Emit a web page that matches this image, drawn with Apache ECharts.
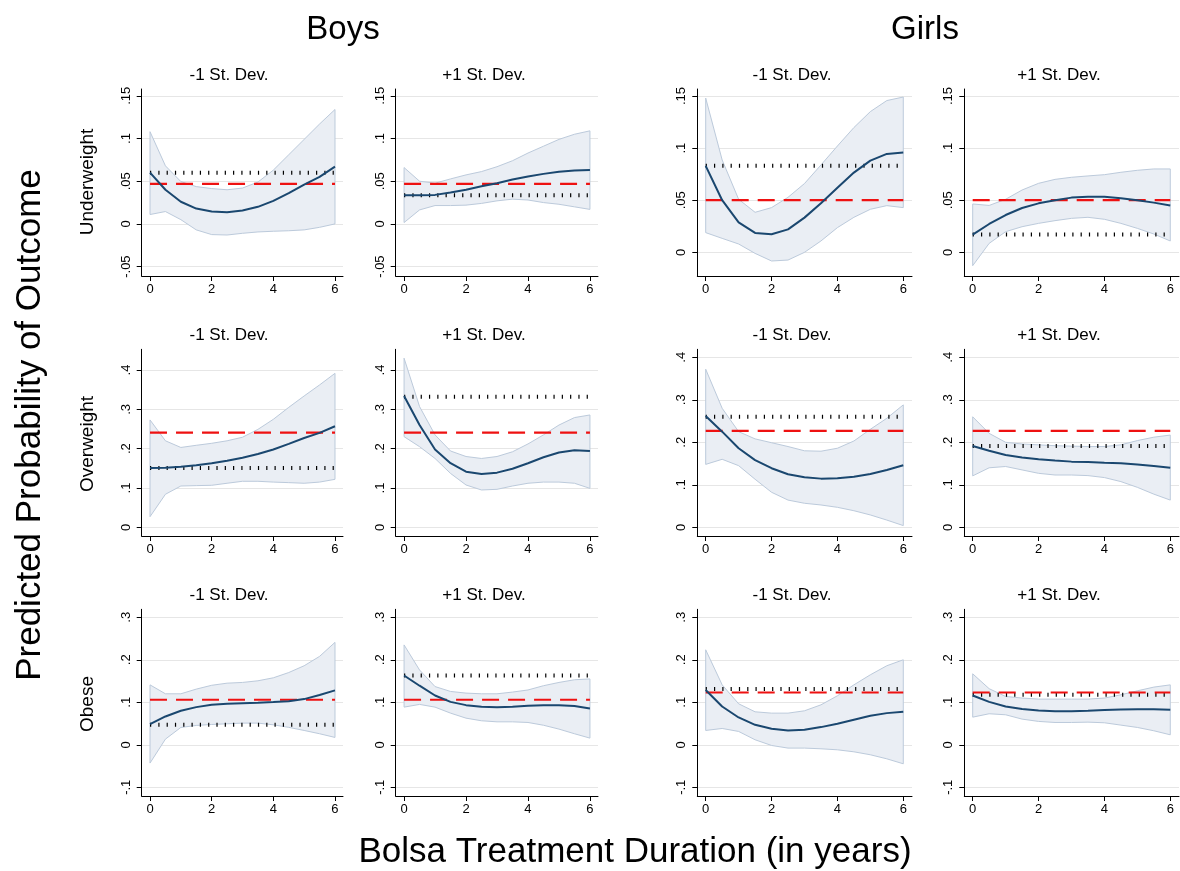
<!DOCTYPE html>
<html>
<head>
<meta charset="utf-8">
<script src="https://cdn.jsdelivr.net/npm/echarts@6/dist/echarts.min.js"></script>
<style>
  html, body { margin: 0; padding: 0; background: #ffffff; }
  #chart { width: 1180px; height: 871px; }
</style>
</head>
<body>
<div id="chart"></div>
<script>
// Treatment duration (years) at which predictions are evaluated
const durations = [0, 0.5, 1, 1.5, 2, 2.5, 3, 3.5, 4, 4.5, 5, 5.5, 6];

// Tick values
const xTicks = [0, 2, 4, 6];
const yTicksUnderBoys = [-0.05, 0, 0.05, 0.1, 0.15];
const yTicksUnderGirls = [0, 0.05, 0.1, 0.15];
const yTicksOver = [0, 0.1, 0.2, 0.3, 0.4];
const yTicksObese = [-0.1, 0, 0.1, 0.2, 0.3];

// Text
const sexTitles = ['Boys', 'Girls'];
const sdTitles = ['-1 St. Dev.', '+1 St. Dev.'];
const outcomeLabels = ['Underweight', 'Overweight', 'Obese'];
const yTitle = 'Predicted Probability of Outcome';
const xTitle = 'Bolsa Treatment Duration (in years)';

// Boys, underweight, -1 SD
const boysUnderMinusFit = [0.060, 0.040, 0.026, 0.018, 0.0145, 0.0137, 0.0156, 0.020, 0.027, 0.036, 0.046, 0.055, 0.067];
const boysUnderMinusLo  = [0.011, 0.0145, 0.005, -0.007, -0.0125, -0.013, -0.011, -0.0094, -0.0086, -0.008, -0.007, -0.004, 0.0];
const boysUnderMinusHi  = [0.108, 0.068, 0.0496, 0.0437, 0.0414, 0.040, 0.042, 0.049, 0.063, 0.081, 0.099, 0.117, 0.134];
// Boys, underweight, +1 SD
const boysUnderPlusFit = [0.0336, 0.0336, 0.034, 0.0367, 0.040, 0.044, 0.0477, 0.052, 0.0555, 0.0586, 0.061, 0.0625, 0.063];
const boysUnderPlusLo  = [0.0016, 0.0164, 0.0215, 0.0215, 0.022, 0.024, 0.027, 0.029, 0.028, 0.025, 0.023, 0.020, 0.017];
const boysUnderPlusHi  = [0.066, 0.050, 0.0477, 0.0527, 0.0574, 0.0613, 0.067, 0.074, 0.083, 0.091, 0.099, 0.105, 0.109];
// Girls, underweight, -1 SD
const girlsUnderMinusFit = [0.0829, 0.050, 0.0288, 0.0186, 0.0173, 0.022, 0.0333, 0.047, 0.062, 0.0765, 0.088, 0.0944, 0.0957];
const girlsUnderMinusLo  = [0.0189, 0.0134, 0.008, -0.001, -0.0083, -0.0074, 0.0, 0.0109, 0.0237, 0.0336, 0.0413, 0.0448, 0.0429];
const girlsUnderMinusHi  = [0.148, 0.0886, 0.0509, 0.0384, 0.0429, 0.0528, 0.066, 0.0838, 0.102, 0.1197, 0.135, 0.1456, 0.149];
// Girls, underweight, +1 SD
const girlsUnderPlusFit = [0.017, 0.0272, 0.0358, 0.0425, 0.047, 0.050, 0.0525, 0.0534, 0.0534, 0.052, 0.050, 0.0477, 0.045];
const girlsUnderPlusLo  = [-0.0128, 0.0086, 0.0198, 0.0246, 0.0278, 0.0304, 0.0326, 0.0336, 0.0317, 0.0278, 0.023, 0.0176, 0.0109];
const girlsUnderPlusHi  = [0.0464, 0.045, 0.0509, 0.0598, 0.0662, 0.070, 0.072, 0.0733, 0.0745, 0.0768, 0.0787, 0.080, 0.080];

// Boys, overweight, -1 SD
const boysOverMinusFit = [0.151, 0.1517, 0.154, 0.1576, 0.1627, 0.1695, 0.177, 0.1864, 0.198, 0.212, 0.227, 0.240, 0.257];
const boysOverMinusLo  = [0.027, 0.084, 0.105, 0.106, 0.1068, 0.112, 0.117, 0.117, 0.115, 0.1136, 0.112, 0.115, 0.122];
const boysOverMinusHi  = [0.273, 0.220, 0.203, 0.2085, 0.2136, 0.220, 0.229, 0.249, 0.2746, 0.305, 0.334, 0.362, 0.3915];
// Boys, overweight, +1 SD
const boysOverPlusFit = [0.334, 0.260, 0.198, 0.163, 0.1415, 0.1356, 0.139, 0.149, 0.163, 0.178, 0.190, 0.196, 0.194];
const boysOverPlusLo  = [0.2305, 0.205, 0.175, 0.137, 0.1076, 0.0949, 0.0966, 0.105, 0.112, 0.115, 0.115, 0.112, 0.099];
const boysOverPlusHi  = [0.430, 0.307, 0.235, 0.194, 0.180, 0.175, 0.180, 0.192, 0.212, 0.235, 0.260, 0.279, 0.2856];
// Girls, overweight, -1 SD
const girlsOverMinusFit = [0.262, 0.225, 0.186, 0.158, 0.139, 0.1247, 0.1176, 0.1145, 0.1153, 0.119, 0.1255, 0.135, 0.146];
const girlsOverMinusLo  = [0.148, 0.160, 0.145, 0.113, 0.0824, 0.064, 0.0565, 0.0525, 0.047, 0.039, 0.029, 0.017, 0.004];
const girlsOverMinusHi  = [0.372, 0.280, 0.225, 0.208, 0.199, 0.190, 0.180, 0.179, 0.186, 0.203, 0.2306, 0.2565, 0.288];
// Girls, overweight, +1 SD
const girlsOverPlusFit = [0.1914, 0.180, 0.170, 0.164, 0.160, 0.157, 0.1545, 0.1537, 0.152, 0.1506, 0.148, 0.144, 0.140];
const girlsOverPlusLo  = [0.121, 0.140, 0.143, 0.135, 0.127, 0.123, 0.123, 0.1216, 0.117, 0.1075, 0.094, 0.078, 0.064];
const girlsOverPlusHi  = [0.260, 0.221, 0.200, 0.196, 0.194, 0.192, 0.191, 0.190, 0.190, 0.194, 0.204, 0.212, 0.217];

// Boys, obese, -1 SD
const boysObeseMinusFit = [0.0486, 0.0667, 0.080, 0.0886, 0.094, 0.0965, 0.098, 0.0988, 0.1004, 0.1027, 0.1075, 0.117, 0.128];
const boysObeseMinusLo  = [-0.043, 0.0133, 0.0408, 0.0455, 0.0478, 0.0494, 0.051, 0.051, 0.047, 0.041, 0.0337, 0.026, 0.0173];
const boysObeseMinusHi  = [0.141, 0.120, 0.120, 0.131, 0.140, 0.145, 0.1467, 0.1506, 0.1576, 0.170, 0.186, 0.208, 0.241];
// Boys, obese, +1 SD
const boysObesePlusFit = [0.163, 0.139, 0.116, 0.101, 0.0933, 0.0894, 0.0886, 0.0894, 0.0918, 0.0933, 0.0933, 0.091, 0.0855];
const boysObesePlusLo  = [0.0886, 0.095, 0.0886, 0.0745, 0.0627, 0.0565, 0.054, 0.054, 0.0525, 0.046, 0.0369, 0.026, 0.0157];
const boysObesePlusHi  = [0.235, 0.176, 0.137, 0.1255, 0.1216, 0.120, 0.120, 0.124, 0.129, 0.139, 0.1467, 0.153, 0.155];
// Girls, obese, -1 SD
const girlsObeseMinusFit = [0.129, 0.090, 0.0643, 0.047, 0.0376, 0.0337, 0.0353, 0.0416, 0.0494, 0.0588, 0.0682, 0.0745, 0.0776];
const girlsObeseMinusLo  = [0.0337, 0.0384, 0.0314, 0.0118, -0.0016, -0.0078, -0.0078, -0.0094, -0.0118, -0.0165, -0.0235, -0.033, -0.0447];
const girlsObeseMinusHi  = [0.2235, 0.141, 0.0965, 0.0776, 0.0745, 0.0745, 0.080, 0.094, 0.1153, 0.141, 0.1647, 0.186, 0.200];
// Girls, obese, +1 SD
const girlsObesePlusFit = [0.116, 0.101, 0.090, 0.084, 0.0808, 0.0792, 0.0792, 0.080, 0.0816, 0.0831, 0.0839, 0.0839, 0.0824];
const girlsObesePlusLo  = [0.065, 0.073, 0.0706, 0.0604, 0.055, 0.0525, 0.0525, 0.0533, 0.0518, 0.0463, 0.0408, 0.033, 0.0235];
const girlsObesePlusHi  = [0.167, 0.132, 0.1137, 0.110, 0.1075, 0.1075, 0.1075, 0.1075, 0.110, 0.1176, 0.127, 0.1357, 0.141];

// Reference levels per panel (row-major: boys -1, boys +1, girls -1, girls +1)
const meanRef = [0.047, 0.047, 0.050, 0.050,
                 0.2407, 0.2407, 0.2267, 0.2267,
                 0.106, 0.106, 0.123, 0.123];
const baseRef = [0.060, 0.0336, 0.083, 0.017,
                 0.151, 0.332, 0.260, 0.191,
                 0.047, 0.163, 0.131, 0.118];

// Panel table assembled from the arrays above
const panels = [
  [boysUnderMinusFit, boysUnderMinusLo, boysUnderMinusHi, yTicksUnderBoys],
  [boysUnderPlusFit, boysUnderPlusLo, boysUnderPlusHi, yTicksUnderBoys],
  [girlsUnderMinusFit, girlsUnderMinusLo, girlsUnderMinusHi, yTicksUnderGirls],
  [girlsUnderPlusFit, girlsUnderPlusLo, girlsUnderPlusHi, yTicksUnderGirls],
  [boysOverMinusFit, boysOverMinusLo, boysOverMinusHi, yTicksOver],
  [boysOverPlusFit, boysOverPlusLo, boysOverPlusHi, yTicksOver],
  [girlsOverMinusFit, girlsOverMinusLo, girlsOverMinusHi, yTicksOver],
  [girlsOverPlusFit, girlsOverPlusLo, girlsOverPlusHi, yTicksOver],
  [boysObeseMinusFit, boysObeseMinusLo, boysObeseMinusHi, yTicksObese],
  [boysObesePlusFit, boysObesePlusLo, boysObesePlusHi, yTicksObese],
  [girlsObeseMinusFit, girlsObeseMinusLo, girlsObeseMinusHi, yTicksObese],
  [girlsObesePlusFit, girlsObesePlusLo, girlsObesePlusHi, yTicksObese]
];

// ---- layout (pixels) ----
const FONT = "'Liberation Sans', Arial, sans-serif";
const cols = [
  { l: 141.7, r: 343, xMin: -0.27, xMax: 6.26, titleX: 229 },
  { l: 395.7, r: 598, xMin: -0.27, xMax: 6.26, titleX: 484 },
  { l: 697.3, r: 912, xMin: -0.255, xMax: 6.265, titleX: 792 },
  { l: 964.3, r: 1179, xMin: -0.255, xMax: 6.265, titleX: 1059 }
];
const rows = [
  { t: 89, b: 276, titleY: 75, labelY: 182 },
  { t: 349.3, b: 536, titleY: 335, labelY: 444 },
  { t: 609.3, b: 796, titleY: 595, labelY: 704 }
];
// y-axis extents per panel (row, boys/girls)
const yExtents = [
  [[-0.061, 0.158], [-0.0227, 0.1567]],
  [[-0.0221, 0.4526], [-0.0205, 0.4188]],
  [[-0.1205, 0.3188], [-0.1205, 0.3188]]
];

function tickText(v) {
  const s = String(Number(v.toFixed(3)));
  return s.replace(/^(-?)0\./, '$1.');
}

const grids = [], xAxes = [], yAxes = [], series = [], texts = [];

panels.forEach(function (p, i) {
  const fit = p[0], lo = p[1], hi = p[2], yTicks = p[3];
  const r = Math.floor(i / 4), c = i % 4;
  const col = cols[c], row = rows[r];
  const ext = yExtents[r][c < 2 ? 0 : 1];

  grids.push({
    left: col.l, top: row.t, width: col.r - col.l, height: row.b - row.t,
    containLabel: false, outerBoundsMode: 'none'
  });

  xAxes.push({
    type: 'value', gridIndex: i, min: col.xMin, max: col.xMax,
    axisLine: { show: true, onZero: false, lineStyle: { color: '#000', width: 1 } },
    axisTick: { show: true, customValues: xTicks, length: 5, lineStyle: { color: '#000', width: 1 } },
    axisLabel: { customValues: xTicks, color: '#000', fontSize: 13, fontFamily: FONT, margin: 7,
                 formatter: function (v) { return tickText(v); } },
    splitLine: { show: false }
  });

  yAxes.push({
    type: 'value', gridIndex: i, min: ext[0], max: ext[1],
    axisLine: { show: true, onZero: false, lineStyle: { color: '#000', width: 1 } },
    axisTick: { show: true, customValues: yTicks, length: 5, lineStyle: { color: '#000', width: 1 } },
    axisLabel: { customValues: yTicks, rotate: 90, color: '#000', fontSize: 13, fontFamily: FONT, margin: 9,
                 formatter: function (v) { return tickText(v); } },
    splitLine: { show: true, lineStyle: { color: '#e6e6e6', width: 1 } }
  });

  // confidence band
  const bandRows = durations.map(function (x, k) { return [x, lo[k], hi[k]]; });
  series.push({
    type: 'custom', xAxisIndex: i, yAxisIndex: i, silent: true, z: 1,
    data: bandRows,
    renderItem: function (params, api) {
      if (params.dataIndex !== 0) return null;
      const pts = [];
      for (let k = 0; k < bandRows.length; k++) pts.push(api.coord([bandRows[k][0], bandRows[k][2]]));
      for (let k = bandRows.length - 1; k >= 0; k--) pts.push(api.coord([bandRows[k][0], bandRows[k][1]]));
      return {
        type: 'polygon',
        shape: { points: pts },
        style: { fill: '#eaeef4', stroke: '#bccadb', lineWidth: 1 }
      };
    }
  });

  // baseline reference (dotted)
  series.push({
    type: 'line', xAxisIndex: i, yAxisIndex: i, silent: true, z: 2,
    data: [[durations[0], baseRef[i]], [durations[durations.length - 1], baseRef[i]]],
    symbol: 'none',
    lineStyle: { color: '#000', width: 4, type: [1.2, 7.1], cap: 'butt' }
  });

  // sample mean reference (red dashed)
  series.push({
    type: 'line', xAxisIndex: i, yAxisIndex: i, silent: true, z: 3,
    data: [[durations[0], meanRef[i]], [durations[durations.length - 1], meanRef[i]]],
    symbol: 'none',
    lineStyle: { color: '#ee1111', width: 2.2, type: [17, 9], cap: 'butt' }
  });

  // predicted probability
  series.push({
    type: 'line', xAxisIndex: i, yAxisIndex: i, silent: true, z: 4,
    data: durations.map(function (x, k) { return [x, fit[k]]; }),
    symbol: 'none',
    lineStyle: { color: '#1a476f', width: 2 }
  });

  texts.push({
    type: 'text', x: col.titleX, y: row.titleY, silent: true,
    style: { text: sdTitles[c % 2], fill: '#000', font: '17px ' + FONT, textAlign: 'center', textVerticalAlign: 'middle' }
  });
});

// row labels
rows.forEach(function (row, r) {
  texts.push({
    type: 'text', x: 88, y: row.labelY, rotation: Math.PI / 2, silent: true,
    style: { text: outcomeLabels[r], fill: '#000', font: '19px ' + FONT, textAlign: 'center', textVerticalAlign: 'middle' }
  });
});

// column group titles
texts.push({
  type: 'text', x: 343, y: 30, silent: true,
  style: { text: sexTitles[0], fill: '#000', font: '33px ' + FONT, textAlign: 'center', textVerticalAlign: 'middle' }
});
texts.push({
  type: 'text', x: 925, y: 30, silent: true,
  style: { text: sexTitles[1], fill: '#000', font: '33px ' + FONT, textAlign: 'center', textVerticalAlign: 'middle' }
});

// axis titles
texts.push({
  type: 'text', x: 30, y: 425, rotation: Math.PI / 2, silent: true,
  style: { text: yTitle, fill: '#000', font: '35px ' + FONT, textAlign: 'center', textVerticalAlign: 'middle' }
});
texts.push({
  type: 'text', x: 635, y: 852, silent: true,
  style: { text: xTitle, fill: '#000', font: '35px ' + FONT, textAlign: 'center', textVerticalAlign: 'middle' }
});

const chart = echarts.init(document.getElementById('chart'), null, { renderer: 'canvas' });
chart.setOption({
  backgroundColor: '#ffffff',
  animation: false,
  grid: grids,
  xAxis: xAxes,
  yAxis: yAxes,
  series: series,
  graphic: { elements: texts }
});
</script>
</body>
</html>
